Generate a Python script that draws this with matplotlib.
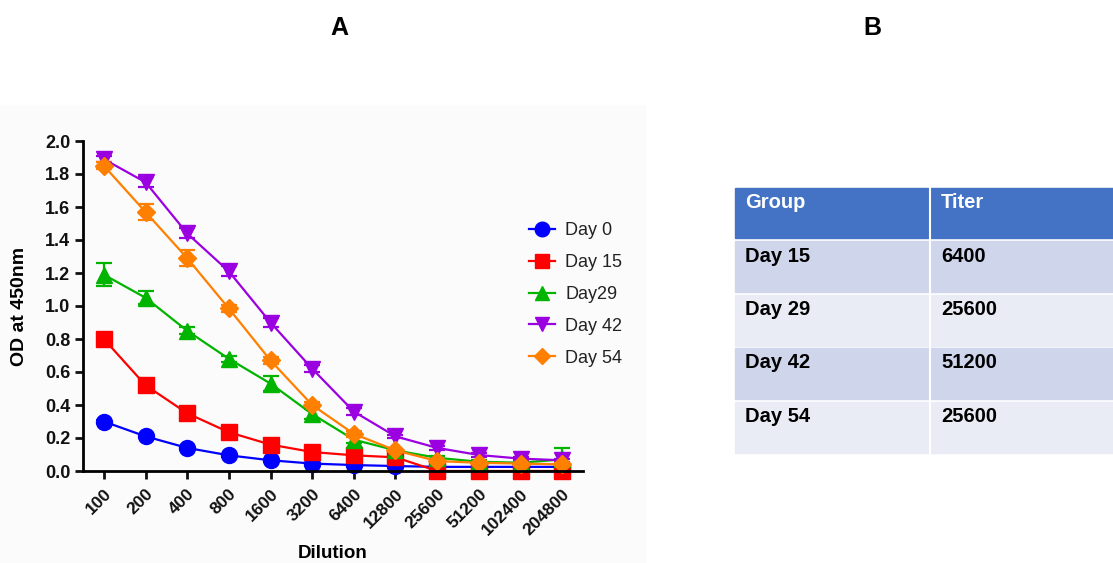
import numpy as np
import matplotlib.pyplot as plt
from matplotlib.patches import Rectangle
from matplotlib.lines import Line2D

plt.rcParams['font.family'] = ['Liberation Sans', 'DejaVu Sans']

# ELISA OD readings per dilution
dilutions = ['100', '200', '400', '800', '1600', '3200', '6400', '12800',
             '25600', '51200', '102400', '204800']

day0 = [0.30, 0.21, 0.14, 0.095, 0.065, 0.045, 0.036, 0.03, 0.025, 0.025, 0.025, 0.025]
day15 = [0.80, 0.52, 0.35, 0.235, 0.16, 0.115, 0.095, 0.083, 0.0, 0.0, 0.0, 0.0]
day29 = [1.19, 1.05, 0.85, 0.68, 0.53, 0.345, 0.19, 0.125, 0.08, 0.056, 0.05, 0.07]
day42 = [1.89, 1.75, 1.44, 1.21, 0.90, 0.62, 0.36, 0.21, 0.14, 0.097, 0.075, 0.065]
day54 = [1.85, 1.57, 1.29, 0.985, 0.67, 0.40, 0.225, 0.125, 0.06, 0.05, 0.045, 0.04]

err0 = [0.01, 0.01, 0.01, 0.01, 0.01, 0.005, 0.005, 0.005, 0.005, 0.005, 0.005, 0.005]
err15 = [0.02, 0.02, 0.02, 0.01, 0.01, 0.01, 0.01, 0.01, 0.005, 0.005, 0.005, 0.005]
err29 = [0.07, 0.04, 0.02, 0.02, 0.045, 0.03, 0.02, 0.01, 0.01, 0.01, 0.01, 0.07]
err42 = [0.02, 0.03, 0.03, 0.03, 0.03, 0.02, 0.02, 0.01, 0.01, 0.01, 0.01, 0.01]
err54 = [0.02, 0.05, 0.05, 0.02, 0.02, 0.02, 0.02, 0.01, 0.01, 0.01, 0.01, 0.01]

series = [
    ('Day 0', day0, err0, '#0000ff', 'o'),
    ('Day 15', day15, err15, '#ff0000', 's'),
    ('Day29', day29, err29, '#00b400', '^'),
    ('Day 42', day42, err42, '#9b00e0', 'v'),
    ('Day 54', day54, err54, '#ff7f00', 'D'),
]

# titer table
groups = ['Day 15', 'Day 29', 'Day 42', 'Day 54']
titers = ['6400', '25600', '51200', '25600']

fig = plt.figure(figsize=(11.13, 5.63), dpi=100)
fig.patches.append(Rectangle((0, 0), 645 / 1113, 1 - 105 / 563,
                             transform=fig.transFigure, color='#fbfbfb', zorder=-5))

ax = fig.add_axes([83 / 1113, 1 - 471 / 563, 500 / 1113, 330 / 563])
x = np.arange(len(dilutions))
handles = []
for name, vals, err, col, mk in series:
    ms = 9.5 if mk == 'D' else 11.5
    ax.errorbar(x, vals, yerr=err, color=col, marker=mk, markersize=ms, lw=1.6,
                capsize=6, capthick=1.6, elinewidth=1.6, clip_on=False)
    handles.append(Line2D([], [], color=col, marker=mk, markersize=ms - 1, lw=1.6, label=name))

ax.set_xlim(-0.5, 11.5)
ax.set_ylim(0, 2.0)
ax.set_yticks(np.arange(0, 2.01, 0.2))
ax.set_yticklabels([f'{v:.1f}' for v in np.arange(0, 2.01, 0.2)])
ax.set_xticks(x)
ax.set_xticklabels(dilutions, rotation=45, ha='right', rotation_mode='anchor')
for s in ['top', 'right']:
    ax.spines[s].set_visible(False)
for s in ['left', 'bottom']:
    ax.spines[s].set_linewidth(2)
ax.tick_params(width=2, length=6, colors='#111111')
ax.tick_params(axis='y', labelsize=13, pad=3)
ax.tick_params(axis='x', labelsize=12.5, pad=5)
for lab in ax.get_xticklabels() + ax.get_yticklabels():
    lab.set_fontweight('bold')
ax.set_facecolor('none')
ax.set_ylabel('OD at 450nm', fontsize=14, fontweight='bold', labelpad=12)
ax.set_xlabel('Dilution', fontsize=13.5, fontweight='bold', labelpad=5)

leg = ax.legend(handles=handles, loc='center left', bbox_to_anchor=(0.86, 0.535),
                frameon=False, fontsize=13, labelspacing=0.82, handlelength=1.45,
                handletextpad=0.55)
for t in leg.get_texts():
    t.set_color('#222222')

fig.text(339 / 1113, 1 - 28 / 563, 'A', fontsize=18, fontweight='bold', ha='center', va='center')
fig.text(872 / 1113, 1 - 28 / 563, 'B', fontsize=18, fontweight='bold', ha='center', va='center')

# table drawn in pixel coordinates
tb = fig.add_axes([0, 0, 1, 1])
tb.set_xlim(0, 1113)
tb.set_ylim(563, 0)
tb.axis('off')
tb.patch.set_visible(False)
tb.add_patch(Rectangle((735, 188), 400, 50, color='#4472c4'))
tb.text(745, 202, 'Group', color='white', fontsize=14.5, fontweight='bold', va='center')
tb.text(941, 202, 'Titer', color='white', fontsize=14.5, fontweight='bold', va='center')
row_cols = ['#cfd5ea', '#e9ebf5']
for i, (g, t) in enumerate(zip(groups, titers)):
    y0 = 241 + i * 53.5
    tb.add_patch(Rectangle((735, y0), 400, 51, color=row_cols[i % 2]))
    tb.text(745, y0 + 15, g, fontsize=14.5, fontweight='bold', va='center')
    tb.text(941, y0 + 15, t, fontsize=14.5, fontweight='bold', va='center')
tb.plot([930, 930], [188, 453], color='white', lw=1.5)

fig.savefig('out.png', dpi=100)
